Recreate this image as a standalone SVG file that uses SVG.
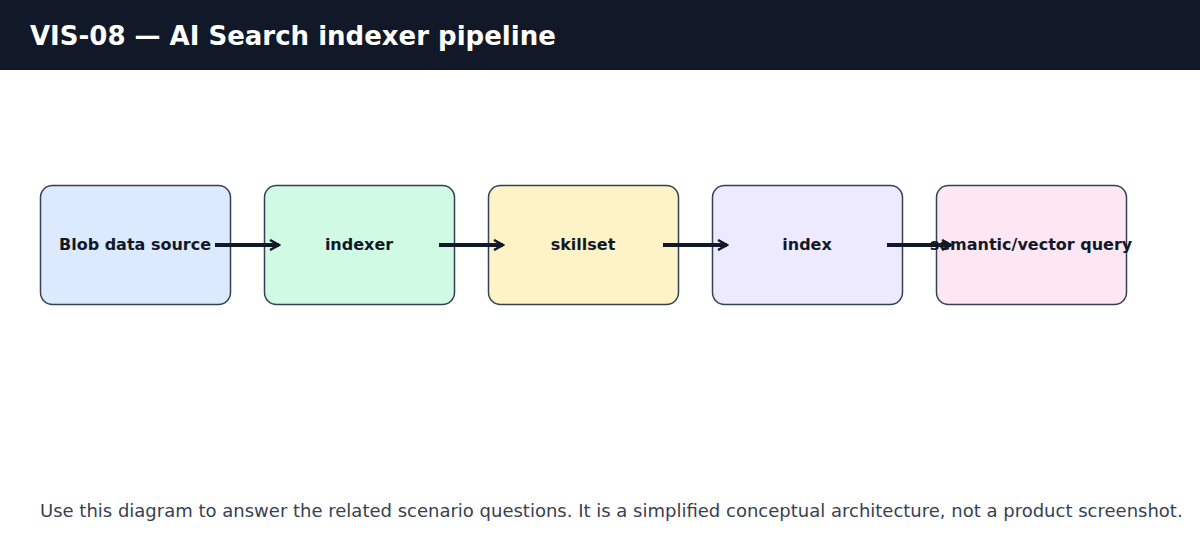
<svg xmlns="http://www.w3.org/2000/svg" width="1200" height="560" viewBox="0 0 1200 560">
<style>
.box{stroke:#334155;stroke-width:1.5}
.lbl{font-family:"DejaVu Sans",sans-serif;font-weight:bold;font-size:16px;fill:#111827;text-anchor:middle}
.edge{stroke:#111827;stroke-width:4;fill:none}
</style>
<defs>
<marker id="ah" markerWidth="12" markerHeight="12" refX="10" refY="6" orient="auto" markerUnits="userSpaceOnUse" viewBox="0 0 12 12">
<path d="M1,1 L10,6 L1,11" fill="none" stroke="#111827" stroke-width="2.5"/>
</marker>
</defs>
<rect width="1200" height="560" fill="#ffffff"/>
<rect width="1200" height="70" fill="#111827"/>
<text x="30" y="45" font-family="DejaVu Sans,sans-serif" font-weight="bold" font-size="26" fill="#ffffff">VIS-08 — AI Search indexer pipeline</text>
<g id="n1"><rect class="box" x="40.5" y="185.5" width="190" height="119" rx="12" fill="#dbeafe"/><text class="lbl" x="135" y="250">Blob data source</text></g>
<g id="n2"><rect class="box" x="264.5" y="185.5" width="190" height="119" rx="12" fill="#d1fae5"/><text class="lbl" x="359" y="250">indexer</text></g>
<g id="n3"><rect class="box" x="488.5" y="185.5" width="190" height="119" rx="12" fill="#fef3c7"/><text class="lbl" x="583" y="250">skillset</text></g>
<g id="n4"><rect class="box" x="712.5" y="185.5" width="190" height="119" rx="12" fill="#ede9fe"/><text class="lbl" x="807" y="250">index</text></g>
<g id="n5"><rect class="box" x="936.5" y="185.5" width="190" height="119" rx="12" fill="#fce7f3"/><text class="lbl" x="1031" y="250">semantic/vector query</text></g>
<g id="edges">
<line class="edge" x1="215" y1="245" x2="279" y2="245" marker-end="url(#ah)"/>
<line class="edge" x1="439" y1="245" x2="503" y2="245" marker-end="url(#ah)"/>
<line class="edge" x1="663" y1="245" x2="727" y2="245" marker-end="url(#ah)"/>
<line class="edge" x1="887" y1="245" x2="951" y2="245" marker-end="url(#ah)"/>
</g>
<text x="40" y="517" font-family="DejaVu Sans,sans-serif" font-size="18" fill="#374151">Use this diagram to answer the related scenario questions. It is a simplified conceptual architecture, not a product screenshot.</text>
</svg>
